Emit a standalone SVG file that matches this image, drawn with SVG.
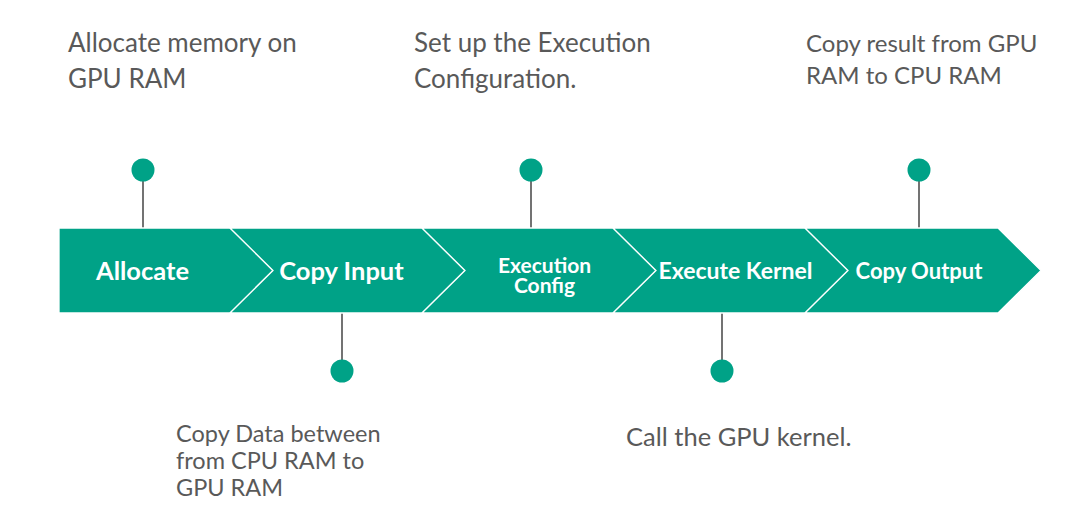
<svg xmlns="http://www.w3.org/2000/svg" width="1084" height="513" viewBox="0 0 1084 513">
<style>
.seg{fill:#00a287;stroke:#ffffff;stroke-width:1.3;stroke-linejoin:miter}
.lbl{font-family:Lato,"Liberation Sans",sans-serif;font-weight:700;fill:#ffffff;text-anchor:middle}
.note{font-family:Lato,"Liberation Sans",sans-serif;fill:#595959}
.dot{fill:#00a287}
.stem{stroke:#444444;stroke-width:1.5;fill:none}
</style>
<rect width="1084" height="513" fill="#ffffff"/>
<g id="connectors">
<line class="stem" x1="143" y1="170" x2="143" y2="228"/>
<line class="stem" x1="531" y1="170" x2="531" y2="228"/>
<line class="stem" x1="919" y1="170" x2="919" y2="228"/>
<line class="stem" x1="342" y1="313" x2="342" y2="371"/>
<line class="stem" x1="722" y1="313" x2="722" y2="371"/>
</g>
<g id="allocate">
<polygon class="seg" points="59,228 230,228 273,270.5 230,313 59,313"/>
<text class="lbl" x="142.5" y="279.5" font-size="25.5">Allocate</text>
</g>
<g id="copy-input">
<polygon class="seg" points="230,228 422,228 465,270.5 422,313 230,313 273,270.5"/>
<text class="lbl" x="341.5" y="279.5" font-size="25.5">Copy Input</text>
</g>
<g id="execution-config">
<polygon class="seg" points="422,228 613,228 656,270.5 613,313 422,313 465,270.5"/>
<text class="lbl" x="544.5" y="272.5" font-size="21">Execution</text>
<text class="lbl" x="544.5" y="293" font-size="21">Config</text>
</g>
<g id="execute-kernel">
<polygon class="seg" points="613,228 805,228 848,270.5 805,313 613,313 656,270.5"/>
<text class="lbl" x="735.5" y="278.5" font-size="23">Execute Kernel</text>
</g>
<g id="copy-output">
<polygon class="seg" points="805,228 998,228 1041,270.5 998,313 805,313 848,270.5"/>
<text class="lbl" x="919" y="278.5" font-size="22">Copy Output</text>
</g>
<g id="note-allocate">
<circle class="dot" cx="143" cy="170" r="11.5"/>
<text class="note" x="68" y="52" font-size="26">Allocate memory on</text>
<text class="note" x="68" y="88" font-size="26">GPU RAM</text>
</g>
<g id="note-exec-config">
<circle class="dot" cx="531" cy="170" r="11.5"/>
<text class="note" x="414" y="52" font-size="26">Set up the Execution</text>
<text class="note" x="414" y="88" font-size="26">Configuration.</text>
</g>
<g id="note-copy-output">
<circle class="dot" cx="919" cy="170" r="11.5"/>
<text class="note" x="806" y="52" font-size="24">Copy result from GPU</text>
<text class="note" x="806" y="84" font-size="24">RAM to CPU RAM</text>
</g>
<g id="note-copy-input">
<circle class="dot" cx="342" cy="371" r="11.5"/>
<text class="note" x="176" y="442" font-size="23.5">Copy Data between</text>
<text class="note" x="176" y="469" font-size="23.5">from CPU RAM to</text>
<text class="note" x="176" y="496" font-size="23.5">GPU RAM</text>
</g>
<g id="note-execute-kernel">
<circle class="dot" cx="722" cy="371" r="11.5"/>
<text class="note" x="626" y="446" font-size="25.5">Call the GPU kernel.</text>
</g>
</svg>
